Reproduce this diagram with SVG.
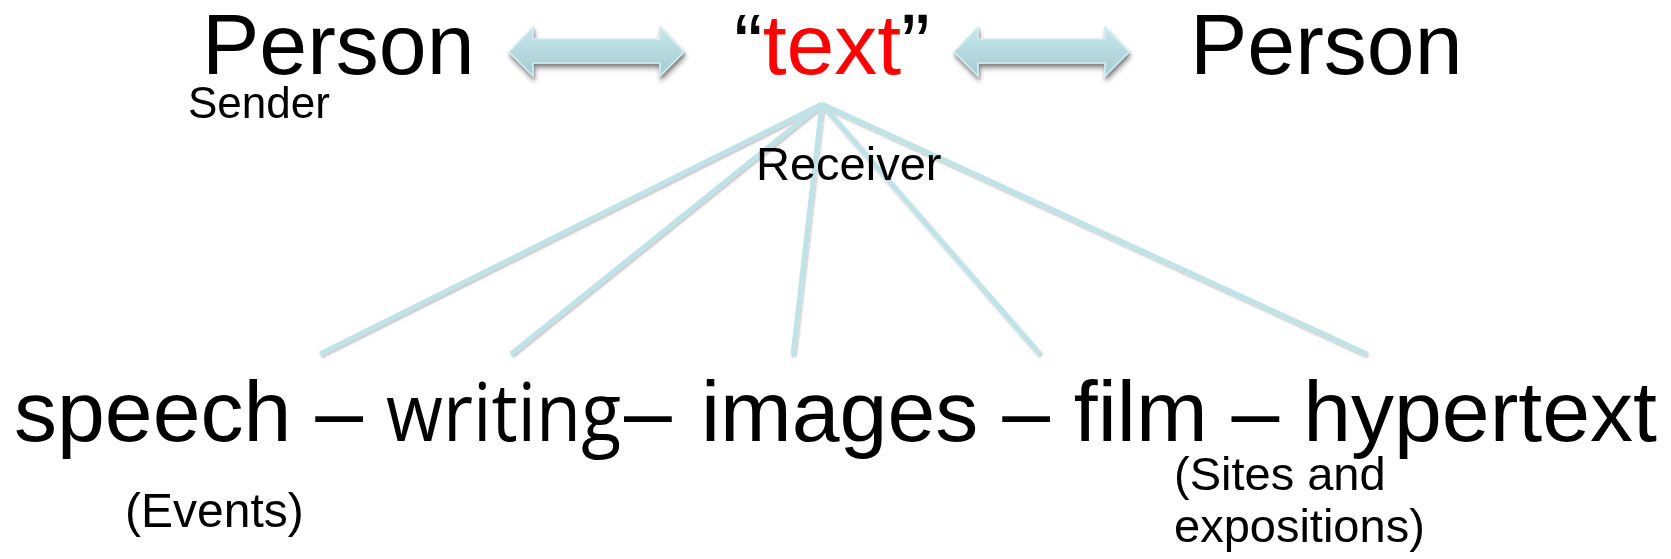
<svg xmlns="http://www.w3.org/2000/svg" width="1671" height="559" viewBox="0 0 1671 559">
  <style>
    .t { font-family: "Liberation Sans", Arial, sans-serif; fill: #000; }
    .big { font-size: 86px; }
    .w { font-family: "Open Sans", "Noto Sans", sans-serif; font-size: 80px; }
    .red { fill: #ff0000; }
    .conn { stroke: #bfe3e7; stroke-width: 5; stroke-linecap: butt; fill: none; }
    .arrow { fill: url(#ag); stroke: #d2ecef; stroke-width: 1.5; }
  </style>
  <defs>
    <linearGradient id="ag" x1="0" y1="0" x2="0" y2="1">
      <stop offset="0" stop-color="#c8e7eb"/>
      <stop offset="1" stop-color="#a3ccd2"/>
    </linearGradient>
    <filter id="sh" x="-10%" y="-20%" width="130%" height="160%">
      <feGaussianBlur in="SourceAlpha" stdDeviation="2.5"/>
      <feOffset dx="1" dy="4" result="b"/>
      <feComponentTransfer><feFuncA type="linear" slope="0.35"/></feComponentTransfer>
      <feMerge><feMergeNode/><feMergeNode in="SourceGraphic"/></feMerge>
    </filter>
    <filter id="lsh" x="-10%" y="-10%" width="120%" height="120%">
      <feGaussianBlur in="SourceAlpha" stdDeviation="1.2"/>
      <feOffset dx="1" dy="2" result="b"/>
      <feComponentTransfer><feFuncA type="linear" slope="0.25"/></feComponentTransfer>
      <feMerge><feMergeNode/><feMergeNode in="SourceGraphic"/></feMerge>
    </filter>
  </defs>
  <rect width="1671" height="559" fill="#ffffff"/>

  <g id="connectors" filter="url(#lsh)">
    <line class="conn" x1="822" y1="104" x2="320" y2="354"/>
    <line class="conn" x1="822" y1="104" x2="511" y2="354"/>
    <line class="conn" x1="822" y1="104" x2="793" y2="355"/>
    <line class="conn" x1="822" y1="104" x2="1040" y2="354"/>
    <line class="conn" x1="822" y1="104" x2="1367" y2="354"/>
    <polygon class="arrow" filter="url(#sh)" points="509,52 533,27 533,39 660,39 660,27 684,52 660,76 660,63 533,63 533,76"/>
    <polygon class="arrow" filter="url(#sh)" points="954,52 978,27 978,39 1105,39 1105,27 1129,52 1105,76 1105,63 978,63 978,76"/>
  </g>

  <g id="sender">
    <text class="t big" x="202" y="74">Person</text>
    <text class="t" x="188" y="118" font-size="44">Sender</text>
  </g>

  <g id="text-node">
    <text class="t big" x="734" y="74">“<tspan class="red">text</tspan>”</text>
  </g>

  <g id="receiver">
    <text class="t big" x="1190" y="74">Person</text>
    <text class="t" x="756" y="180" font-size="47">Receiver</text>
  </g>

  <g id="media">
    <text class="t big" x="14" y="441">speech – <tspan class="w" x="386" textLength="235" lengthAdjust="spacingAndGlyphs">writing</tspan><tspan x="624">–</tspan><tspan x="701">images – film – hypertext</tspan></text>
  </g>

  <g id="events">
    <text class="t" x="125" y="527" font-size="48">(Events)</text>
  </g>

  <g id="sites">
    <text class="t" font-size="47"><tspan x="1174" y="490">(Sites and</tspan><tspan x="1174" y="542">expositions)</tspan></text>
  </g>
</svg>
